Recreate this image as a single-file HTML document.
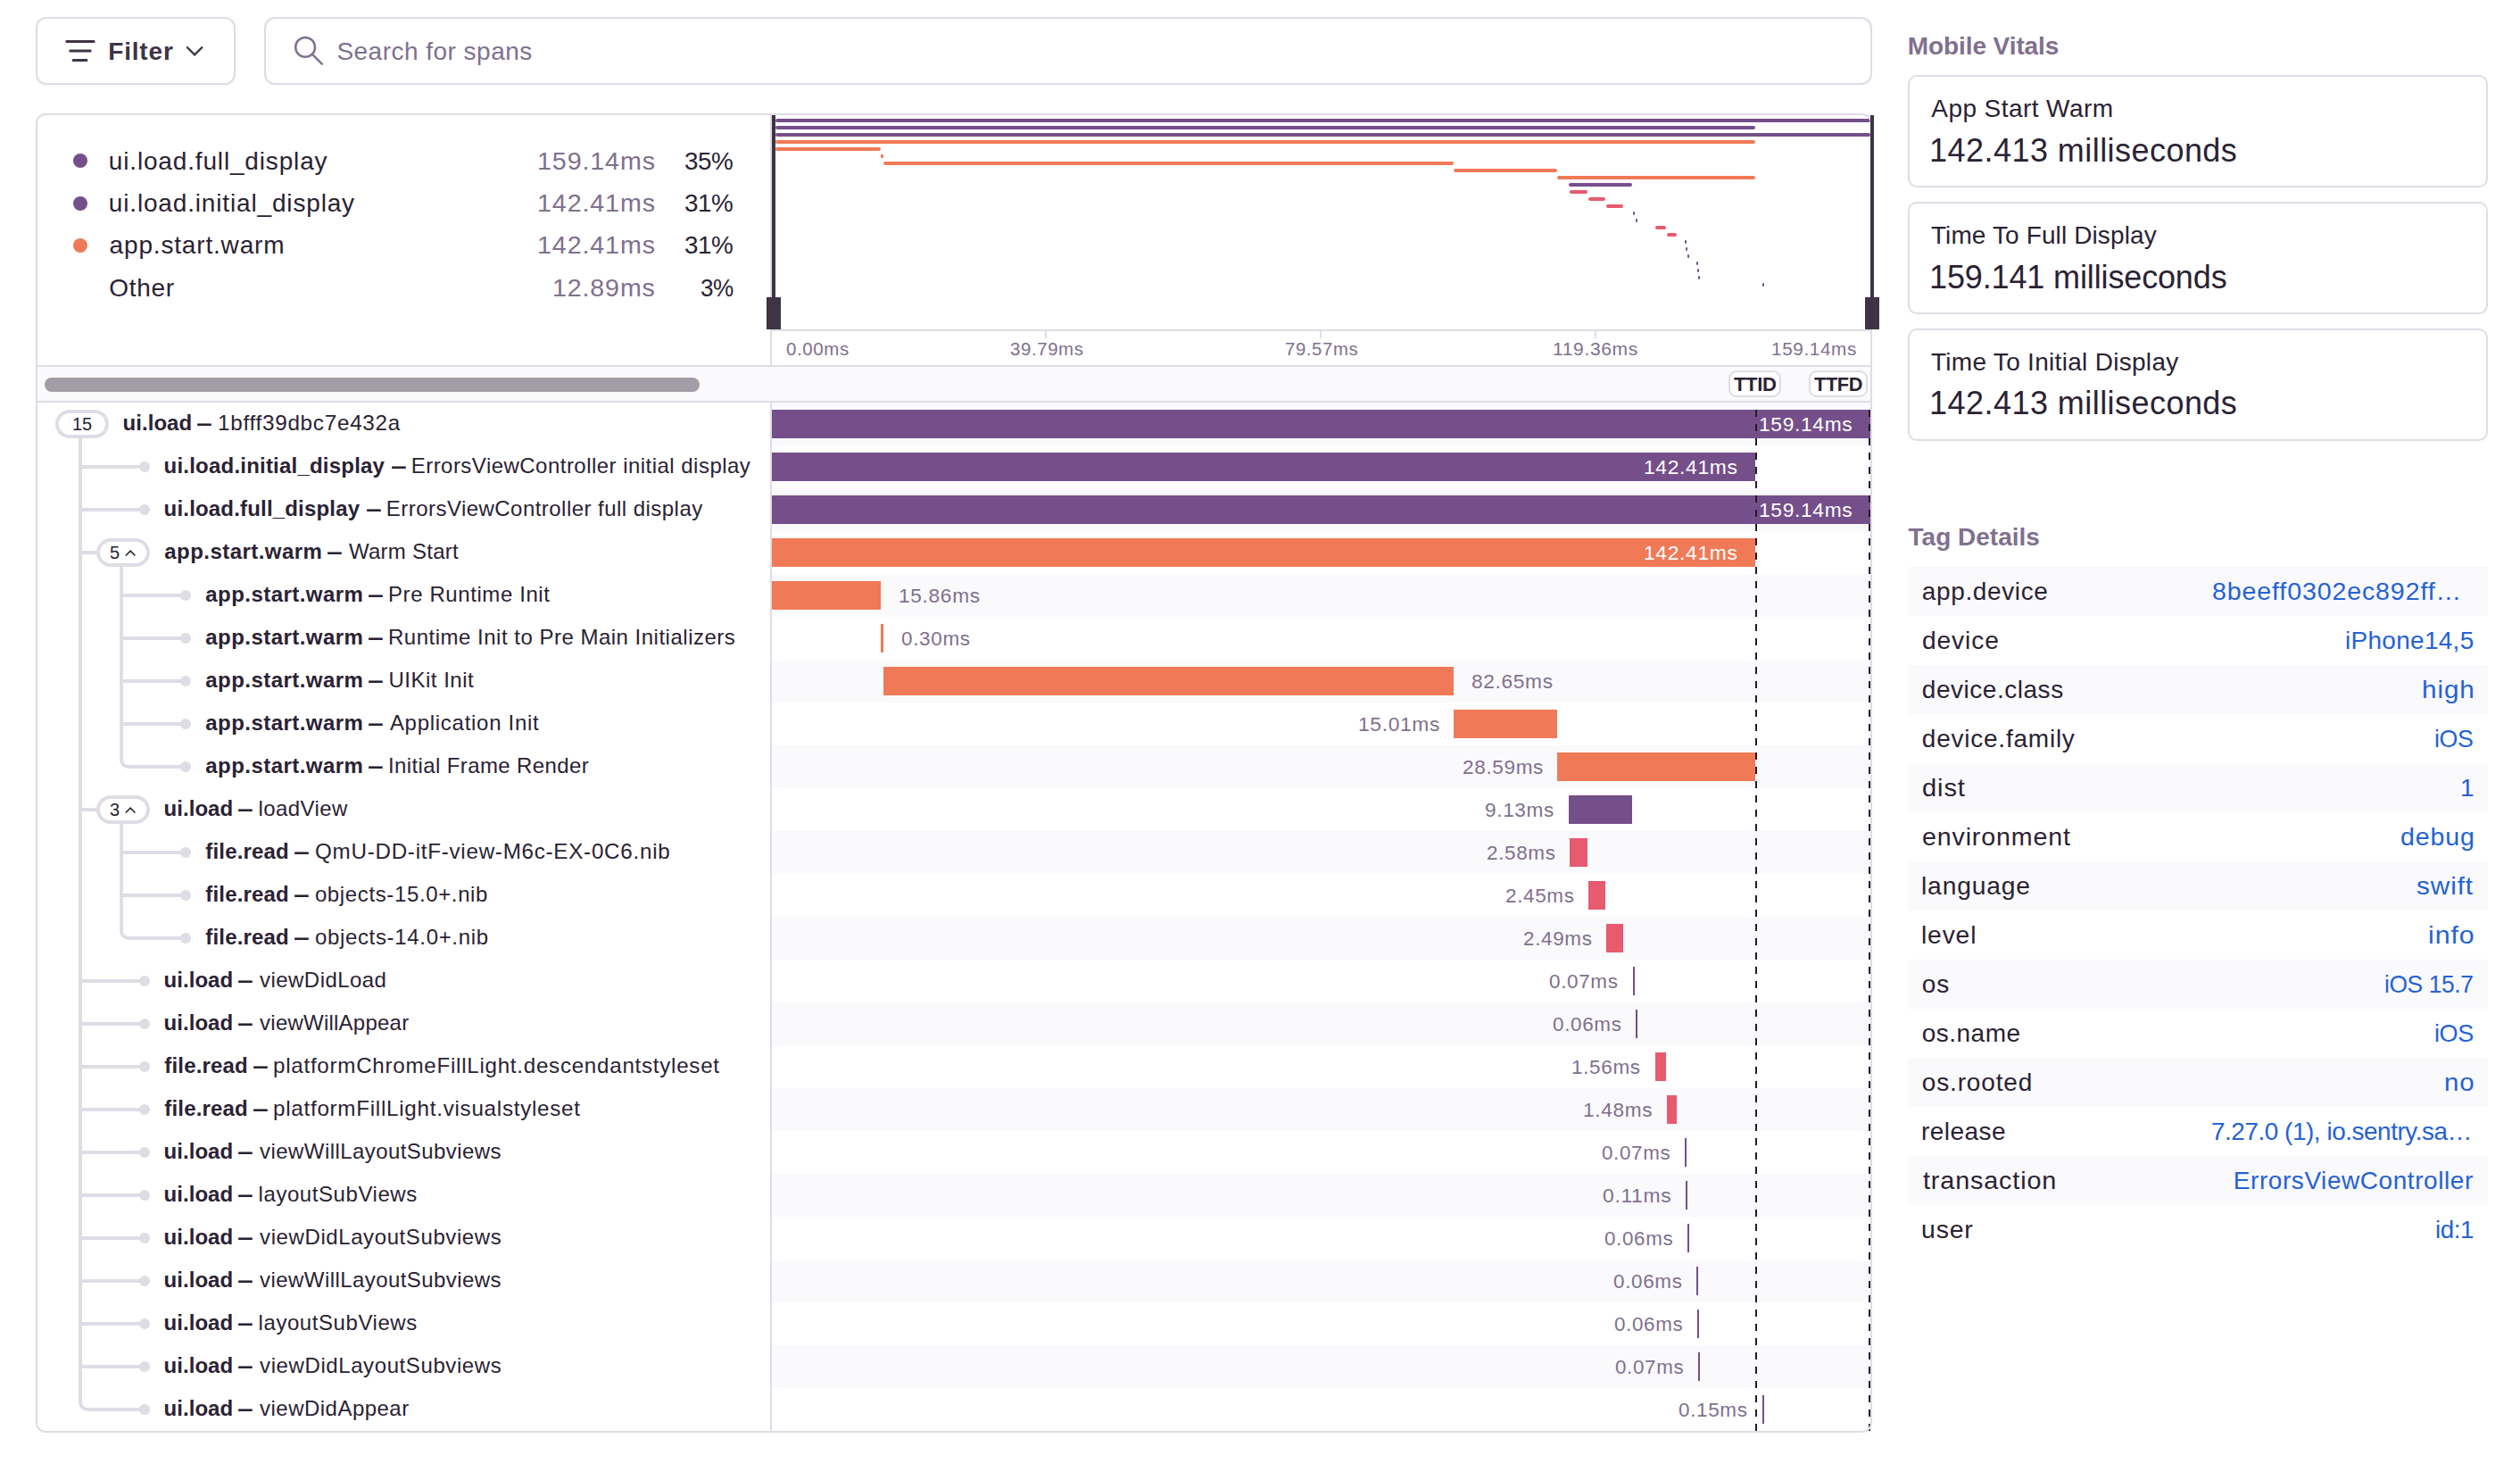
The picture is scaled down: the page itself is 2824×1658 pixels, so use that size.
<!DOCTYPE html>
<html lang="en">
<head>
<meta charset="utf-8">
<title>Trace view</title>
<style>
*{box-sizing:border-box;margin:0;padding:0}
html,body{width:2824px;height:1658px;overflow:hidden;background:#fff}
body{position:relative;font-family:"Liberation Sans",sans-serif;color:#2b2233;font-size:28px}
i{display:block;font-style:normal;position:absolute}
span,h4,svg{position:absolute;white-space:nowrap;transform-origin:0 50%}
.btn,.search{position:absolute;top:19px;height:76px;border:2px solid #e0dce5;border-radius:12px;background:#fff;box-shadow:0 2px 3px rgba(43,34,51,.035)}
.filter{left:40px;width:224px}
.ico-filter{left:73px;top:44px}
.filter-t{top:40px;font-weight:bold;font-size:28px;line-height:36px;color:#3e3446}
.ico-chev{left:208px;top:51px}
.search{left:296px;width:1802px;box-shadow:inset 0 2px 3px rgba(43,34,51,.03)}
.ico-search{left:329px;top:40px}
.search-t{top:40px;font-size:28px;line-height:36px;color:#80708f}
.panel-border{left:40px;top:127px;width:2058px;height:1478px;border:2px solid #e0dce5;border-radius:11px}
.lg{height:40px;line-height:40px;font-size:28px}
.lg-d{color:#80708f}
.dot{left:82px;width:16px;height:16px;border-radius:50%}
.mini i{height:4px}
.hline{z-index:5;top:129px;width:4px;height:206px;background:#3e3446}
.hbox{z-index:5;top:333px;width:16px;height:36px;background:#3e3446}
.axis-top{left:865px;top:369px;width:1231px;height:2px;background:#e0dce5}
.tick{top:371px;width:2px;height:8px;background:#e0dce5}
.ax{top:376px;height:30px;line-height:30px;font-size:20px;color:#80708f}
.hdr{left:42px;top:409px;width:2054px;height:42px;background:#faf9fb;border-top:2px solid #e0dce5;border-bottom:2px solid #e0dce5}
.scroll{left:50px;top:423px;width:734px;height:16px;border-radius:8px;background:#a39da8}
.badge{top:415.4px;height:29.6px;border:2px solid #e0dce5;border-radius:9px;background:#fff}
.bt{top:416px;height:29px;line-height:29px;font-size:22px;font-weight:bold}
.divider{left:863px;top:129px;width:2px;height:1474px;background:#e0dce5}
.stripe{left:865px;width:1231px;height:48px;background:#faf9fb}
.t{height:48px;line-height:45px;font-size:24px}
.tb{font-weight:bold}
.dsh{transform:scaleX(.655);transform-origin:0 50%;font-weight:bold}
.bar{height:32px}
.bl{height:48px;line-height:50px;font-size:22px;color:#80708f}
.bl.in{color:#fff}
.tree{left:42px;top:451px}
.tree path{fill:none;stroke:#e0dce5;stroke-width:4}
.tree circle{fill:#e0dce5}
.pill{width:60px;height:32px;border:4px solid #e0dce5;border-radius:16px;background:#fff}
.pt{height:32px;line-height:32px;font-size:20px}
.dash{top:451px;width:2px;height:1152px;background:repeating-linear-gradient(to bottom,transparent 0,transparent 8px,#231a2d 8px,#231a2d 16px)}
.sh{font-size:28px;line-height:40px;font-weight:bold;color:#80708f}
.card{left:2138.3px;width:649.7px;height:125.6px;border:2px solid #e0dce5;border-radius:10px;background:#fff}
.c1{font-size:28px;line-height:40px}
.c2{font-size:36px;line-height:48px}
.tagbg{left:2138px;width:650px;height:55px;background:#faf9fb}
.tg{height:55px;line-height:55px;font-size:28px}
.tv{color:#2562d4}
</style>
</head>
<body>
<header class="toolbar">
<div class="btn filter"></div>
<svg class="ico-filter" width="36" height="26" viewBox="0 0 36 26"><path d="M1.7 2.5h30.5M5.7 13h22.5M9.1 23.5h14.9" fill="none" stroke="#3e3446" stroke-width="3" stroke-linecap="round"/></svg>
<span id="filter-t" class="filter-t" style="left:121.2px;letter-spacing:0.84px;">Filter</span>
<svg class="ico-chev" width="22" height="13" viewBox="0 0 22 13"><path d="M1.2 1.5l8.9 8.9l8.9-8.9" fill="none" stroke="#3e3446" stroke-width="2.4" stroke-linejoin="miter"/></svg>
<div class="search"></div>
<svg class="ico-search" width="34" height="34" viewBox="0 0 34 34"><circle cx="13.1" cy="12.9" r="10.9" fill="none" stroke="#80708f" stroke-width="2.5"/><path d="M20.8 20.6l11 11" stroke="#80708f" stroke-width="2.5" stroke-linecap="round"/></svg>
<span id="search-t" class="search-t" style="left:377.4px;letter-spacing:0.48px;">Search for spans</span>
</header>
<main class="trace">
<section class="legend">
<i class="dot" style="top:172.3px;background:#754f89"></i><span id="lgn0" class="lg" style="left:121.8px;letter-spacing:0.84px;top:160.9px">ui.load.full_display</span><span id="lgd0" class="lg lg-d" style="left:602.0px;letter-spacing:0.84px;transform:scaleX(1.0244);top:160.9px">159.14ms</span><span id="lgp0" class="lg" style="left:767.1px;letter-spacing:-0.45px;transform:scaleX(0.9937);top:160.9px">35%</span>
<i class="dot" style="top:219.5px;background:#754f89"></i><span id="lgn1" class="lg" style="left:121.8px;letter-spacing:0.84px;top:208.1px">ui.load.initial_display</span><span id="lgd1" class="lg lg-d" style="left:602.0px;letter-spacing:0.84px;transform:scaleX(1.0244);top:208.1px">142.41ms</span><span id="lgp1" class="lg" style="left:767.1px;letter-spacing:-0.45px;transform:scaleX(0.9937);top:208.1px">31%</span>
<i class="dot" style="top:266.7px;background:#f07a57"></i><span id="lgn2" class="lg" style="left:122.6px;letter-spacing:0.83px;top:255.3px">app.start.warm</span><span id="lgd2" class="lg lg-d" style="left:602.0px;letter-spacing:0.84px;transform:scaleX(1.0244);top:255.3px">142.41ms</span><span id="lgp2" class="lg" style="left:767.1px;letter-spacing:-0.45px;transform:scaleX(0.9937);top:255.3px">31%</span>
<span id="lgn3" class="lg" style="left:122.2px;letter-spacing:0.70px;top:302.5px">Other</span><span id="lgd3" class="lg lg-d" style="left:619.1px;letter-spacing:0.84px;transform:scaleX(1.0218);top:302.5px">12.89ms</span><span id="lgp3" class="lg" style="left:784.6px;letter-spacing:-0.45px;transform:scaleX(0.9318);top:302.5px">3%</span>
</section>
<section class="minimap">
<div class="mini">
<i style="left:869px;top:133px;width:1227px;background:#754f89;border-radius:2px"></i><i style="left:869px;top:141px;width:1098px;background:#754f89;border-radius:2px"></i><i style="left:869px;top:149px;width:1227px;background:#754f89;border-radius:2px"></i><i style="left:869px;top:157px;width:1098px;background:#f07a57;border-radius:2px"></i><i style="left:869px;top:165px;width:118px;background:#f07a57;border-radius:2px"></i><i style="left:987px;top:173px;width:3px;background:#f07a57;border-radius:1px"></i><i style="left:990px;top:181px;width:639px;background:#f07a57;border-radius:2px"></i><i style="left:1629px;top:189px;width:116px;background:#f07a57;border-radius:2px"></i><i style="left:1745px;top:197px;width:222px;background:#f07a57;border-radius:2px"></i><i style="left:1758px;top:205px;width:71px;background:#754f89;border-radius:2px"></i><i style="left:1759px;top:213px;width:20px;background:#e85a6e;border-radius:2px"></i><i style="left:1780px;top:221px;width:19px;background:#e85a6e;border-radius:2px"></i><i style="left:1800px;top:229px;width:19px;background:#e85a6e;border-radius:2px"></i><i style="left:1830px;top:237px;width:2px;background:#754f89;border-radius:1px"></i><i style="left:1833px;top:245px;width:2px;background:#754f89;border-radius:1px"></i><i style="left:1855px;top:253px;width:12px;background:#e85a6e;border-radius:2px"></i><i style="left:1868px;top:261px;width:11px;background:#e85a6e;border-radius:2px"></i><i style="left:1888px;top:269px;width:2px;background:#754f89;border-radius:1px"></i><i style="left:1889px;top:277px;width:2px;background:#754f89;border-radius:1px"></i><i style="left:1891px;top:285px;width:2px;background:#754f89;border-radius:1px"></i><i style="left:1901px;top:293px;width:2px;background:#754f89;border-radius:1px"></i><i style="left:1902px;top:301px;width:2px;background:#754f89;border-radius:1px"></i><i style="left:1903px;top:309px;width:2px;background:#754f89;border-radius:1px"></i><i style="left:1975px;top:317px;width:2px;background:#754f89;border-radius:1px"></i>
</div>
<i class="divider"></i>
<i class="hline" style="left:865px"></i><i class="hbox" style="left:859px"></i>
<i class="hline" style="left:2096px"></i><i class="hbox" style="left:2090px"></i>
<i class="axis-top"></i>
<i class="tick" style="left:1171px"></i><i class="tick" style="left:1479px"></i><i class="tick" style="left:1787px"></i>
<span id="ax0" class="ax" style="left:880.5px;letter-spacing:0.60px;transform:scaleX(1.0232);">0.00ms</span><span id="ax1" class="ax" style="left:1131.6px;letter-spacing:0.60px;transform:scaleX(1.0195);">39.79ms</span><span id="ax2" class="ax" style="left:1439.7px;letter-spacing:0.60px;transform:scaleX(1.0159);">79.57ms</span><span id="ax3" class="ax" style="left:1740.4px;letter-spacing:0.60px;transform:scaleX(1.0522);">119.36ms</span><span id="ax4" class="ax" style="left:1984.8px;letter-spacing:0.60px;transform:scaleX(1.0349);">159.14ms</span>
</section>
<section class="spans">
<i class="hdr"></i><i class="scroll"></i>
<i class="badge" style="left:1937px;width:59px"></i><i class="badge" style="left:2027px;width:66px"></i>
<span id="ttid" class="bt" style="left:1943.0px;letter-spacing:-0.35px;">TTID</span><span id="ttfd" class="bt" style="left:2033.0px;letter-spacing:-0.35px;transform:scaleX(0.9856);">TTFD</span>
<div class="row"><i class="stripe" style="top:451px"></i><span id="op0" class="t tb" style="left:137.6px;letter-spacing:0.04px;top:451px">ui.load</span><span class="t dsh" style="left:221.3px;top:451px">—</span><span id="ds0" class="t" style="left:243.6px;letter-spacing:0.72px;transform:scaleX(1.0107);top:451px">1bfff39dbc7e432a</span><i class="bar" style="left:865px;top:459px;width:1231px;background:#754f89"></i><span id="bl0" class="bl in" style="left:1971.3px;letter-spacing:0.66px;transform:scaleX(1.0336);top:451px">159.14ms</span></div>
<div class="row"><span id="op1" class="t tb" style="left:183.6px;letter-spacing:0.21px;top:499px">ui.load.initial_display</span><span class="t dsh" style="left:438.8px;top:499px">—</span><span id="ds1" class="t" style="left:460.7px;letter-spacing:0.47px;top:499px">ErrorsViewController initial display</span><i class="bar" style="left:865px;top:507px;width:1102px;background:#754f89"></i><span id="bl1" class="bl in" style="left:1841.6px;letter-spacing:0.66px;transform:scaleX(1.0366);top:499px">142.41ms</span></div>
<div class="row"><i class="stripe" style="top:547px"></i><span id="op2" class="t tb" style="left:183.6px;letter-spacing:0.18px;top:547px">ui.load.full_display</span><span class="t dsh" style="left:410.9px;top:547px">—</span><span id="ds2" class="t" style="left:432.8px;letter-spacing:0.46px;top:547px">ErrorsViewController full display</span><i class="bar" style="left:865px;top:555px;width:1231px;background:#754f89"></i><span id="bl2" class="bl in" style="left:1971.3px;letter-spacing:0.66px;transform:scaleX(1.0336);top:547px">159.14ms</span></div>
<div class="row"><span id="op3" class="t tb" style="left:184.3px;letter-spacing:0.45px;top:595px">app.start.warm</span><span class="t dsh" style="left:367.1px;top:595px">—</span><span id="ds3" class="t" style="left:390.9px;letter-spacing:0.26px;top:595px">Warm Start</span><i class="bar" style="left:865px;top:603px;width:1102px;background:#f07a57"></i><span id="bl3" class="bl in" style="left:1841.6px;letter-spacing:0.66px;transform:scaleX(1.0366);top:595px">142.41ms</span></div>
<div class="row"><i class="stripe" style="top:643px"></i><span id="op4" class="t tb" style="left:230.3px;letter-spacing:0.45px;top:643px">app.start.warm</span><span class="t dsh" style="left:413.1px;top:643px">—</span><span id="ds4" class="t" style="left:435.0px;letter-spacing:0.59px;top:643px">Pre Runtime Init</span><i class="bar" style="left:865px;top:651px;width:122px;background:#f07a57"></i><span id="bl4" class="bl" style="left:1007.0px;letter-spacing:0.66px;transform:scaleX(1.0304);top:643px">15.86ms</span></div>
<div class="row"><span id="op5" class="t tb" style="left:230.3px;letter-spacing:0.45px;top:691px">app.start.warm</span><span class="t dsh" style="left:413.1px;top:691px">—</span><span id="ds5" class="t" style="left:435.0px;letter-spacing:0.50px;top:691px">Runtime Init to Pre Main Initializers</span><i class="bar" style="left:987px;top:699px;width:3px;background:#f07a57"></i><span id="bl5" class="bl" style="left:1009.5px;letter-spacing:0.66px;transform:scaleX(1.0207);top:691px">0.30ms</span></div>
<div class="row"><i class="stripe" style="top:739px"></i><span id="op6" class="t tb" style="left:230.3px;letter-spacing:0.45px;top:739px">app.start.warm</span><span class="t dsh" style="left:413.1px;top:739px">—</span><span id="ds6" class="t" style="left:435.4px;letter-spacing:0.51px;top:739px">UIKit Init</span><i class="bar" style="left:990px;top:747px;width:639px;background:#f07a57"></i><span id="bl6" class="bl" style="left:1648.6px;letter-spacing:0.66px;transform:scaleX(1.0303);top:739px">82.65ms</span></div>
<div class="row"><span id="op7" class="t tb" style="left:230.3px;letter-spacing:0.45px;top:787px">app.start.warm</span><span class="t dsh" style="left:413.1px;top:787px">—</span><span id="ds7" class="t" style="left:436.9px;letter-spacing:0.72px;top:787px">Application Init</span><i class="bar" style="left:1629px;top:795px;width:116px;background:#f07a57"></i><span id="bl7" class="bl" style="left:1521.7px;letter-spacing:0.66px;transform:scaleX(1.0339);top:787px">15.01ms</span></div>
<div class="row"><i class="stripe" style="top:835px"></i><span id="op8" class="t tb" style="left:230.3px;letter-spacing:0.45px;top:835px">app.start.warm</span><span class="t dsh" style="left:413.1px;top:835px">—</span><span id="ds8" class="t" style="left:435.0px;letter-spacing:0.38px;top:835px">Initial Frame Render</span><i class="bar" style="left:1745px;top:843px;width:222px;background:#f07a57"></i><span id="bl8" class="bl" style="left:1638.5px;letter-spacing:0.66px;transform:scaleX(1.0228);top:835px">28.59ms</span></div>
<div class="row"><span id="op9" class="t tb" style="left:183.6px;letter-spacing:0.04px;top:883px">ui.load</span><span class="t dsh" style="left:267.3px;top:883px">—</span><span id="ds9" class="t" style="left:289.6px;letter-spacing:0.39px;top:883px">loadView</span><i class="bar" style="left:1758px;top:891px;width:71px;background:#754f89"></i><span id="bl9" class="bl" style="left:1664.2px;letter-spacing:0.66px;transform:scaleX(1.0241);top:883px">9.13ms</span></div>
<div class="row"><i class="stripe" style="top:931px"></i><span id="op10" class="t tb" style="left:230.3px;letter-spacing:0.17px;top:931px">file.read</span><span class="t dsh" style="left:329.9px;top:931px">—</span><span id="ds10" class="t" style="left:352.6px;letter-spacing:0.72px;transform:scaleX(1.0088);top:931px">QmU-DD-itF-view-M6c-EX-0C6.nib</span><i class="bar" style="left:1759px;top:939px;width:20px;background:#e85a6e"></i><span id="bl10" class="bl" style="left:1665.5px;letter-spacing:0.66px;transform:scaleX(1.0200);top:931px">2.58ms</span></div>
<div class="row"><span id="op11" class="t tb" style="left:230.3px;letter-spacing:0.17px;top:979px">file.read</span><span class="t dsh" style="left:329.9px;top:979px">—</span><span id="ds11" class="t" style="left:352.9px;letter-spacing:0.63px;top:979px">objects-15.0+.nib</span><i class="bar" style="left:1780px;top:987px;width:19px;background:#e85a6e"></i><span id="bl11" class="bl" style="left:1686.8px;letter-spacing:0.66px;transform:scaleX(1.0200);top:979px">2.45ms</span></div>
<div class="row"><i class="stripe" style="top:1027px"></i><span id="op12" class="t tb" style="left:230.3px;letter-spacing:0.17px;top:1027px">file.read</span><span class="t dsh" style="left:329.9px;top:1027px">—</span><span id="ds12" class="t" style="left:352.9px;letter-spacing:0.67px;top:1027px">objects-14.0+.nib</span><i class="bar" style="left:1800px;top:1035px;width:19px;background:#e85a6e"></i><span id="bl12" class="bl" style="left:1706.5px;letter-spacing:0.66px;transform:scaleX(1.0200);top:1027px">2.49ms</span></div>
<div class="row"><span id="op13" class="t tb" style="left:183.6px;letter-spacing:0.04px;top:1075px">ui.load</span><span class="t dsh" style="left:267.3px;top:1075px">—</span><span id="ds13" class="t" style="left:291.1px;letter-spacing:0.44px;top:1075px">viewDidLoad</span><i class="bar" style="left:1830px;top:1083px;width:2px;background:#754f89"></i><span id="bl13" class="bl" style="left:1736.4px;letter-spacing:0.66px;transform:scaleX(1.0193);top:1075px">0.07ms</span></div>
<div class="row"><i class="stripe" style="top:1123px"></i><span id="op14" class="t tb" style="left:183.6px;letter-spacing:0.04px;top:1123px">ui.load</span><span class="t dsh" style="left:267.3px;top:1123px">—</span><span id="ds14" class="t" style="left:291.1px;letter-spacing:0.23px;top:1123px">viewWillAppear</span><i class="bar" style="left:1833px;top:1131px;width:2px;background:#754f89"></i><span id="bl14" class="bl" style="left:1739.6px;letter-spacing:0.66px;transform:scaleX(1.0193);top:1123px">0.06ms</span></div>
<div class="row"><span id="op15" class="t tb" style="left:184.3px;letter-spacing:0.17px;top:1171px">file.read</span><span class="t dsh" style="left:283.9px;top:1171px">—</span><span id="ds15" class="t" style="left:306.2px;letter-spacing:0.72px;transform:scaleX(1.0073);top:1171px">platformChromeFillLight.descendantstyleset</span><i class="bar" style="left:1855px;top:1179px;width:12px;background:#e85a6e"></i><span id="bl15" class="bl" style="left:1760.8px;letter-spacing:0.66px;transform:scaleX(1.0207);top:1171px">1.56ms</span></div>
<div class="row"><i class="stripe" style="top:1219px"></i><span id="op16" class="t tb" style="left:184.3px;letter-spacing:0.17px;top:1219px">file.read</span><span class="t dsh" style="left:283.9px;top:1219px">—</span><span id="ds16" class="t" style="left:306.2px;letter-spacing:0.72px;transform:scaleX(1.0086);top:1219px">platformFillLight.visualstyleset</span><i class="bar" style="left:1868px;top:1227px;width:11px;background:#e85a6e"></i><span id="bl16" class="bl" style="left:1774.1px;letter-spacing:0.66px;transform:scaleX(1.0261);top:1219px">1.48ms</span></div>
<div class="row"><span id="op17" class="t tb" style="left:183.6px;letter-spacing:0.04px;top:1267px">ui.load</span><span class="t dsh" style="left:267.3px;top:1267px">—</span><span id="ds17" class="t" style="left:291.1px;letter-spacing:0.43px;top:1267px">viewWillLayoutSubviews</span><i class="bar" style="left:1888px;top:1275px;width:2px;background:#754f89"></i><span id="bl17" class="bl" style="left:1794.7px;letter-spacing:0.66px;transform:scaleX(1.0166);top:1267px">0.07ms</span></div>
<div class="row"><i class="stripe" style="top:1315px"></i><span id="op18" class="t tb" style="left:183.6px;letter-spacing:0.04px;top:1315px">ui.load</span><span class="t dsh" style="left:267.3px;top:1315px">—</span><span id="ds18" class="t" style="left:289.6px;letter-spacing:0.56px;top:1315px">layoutSubViews</span><i class="bar" style="left:1889px;top:1323px;width:2px;background:#754f89"></i><span id="bl18" class="bl" style="left:1796.0px;letter-spacing:0.66px;transform:scaleX(1.0381);top:1315px">0.11ms</span></div>
<div class="row"><span id="op19" class="t tb" style="left:183.6px;letter-spacing:0.04px;top:1363px">ui.load</span><span class="t dsh" style="left:267.3px;top:1363px">—</span><span id="ds19" class="t" style="left:291.1px;letter-spacing:0.59px;top:1363px">viewDidLayoutSubviews</span><i class="bar" style="left:1891px;top:1371px;width:2px;background:#754f89"></i><span id="bl19" class="bl" style="left:1797.5px;letter-spacing:0.66px;transform:scaleX(1.0166);top:1363px">0.06ms</span></div>
<div class="row"><i class="stripe" style="top:1411px"></i><span id="op20" class="t tb" style="left:183.6px;letter-spacing:0.04px;top:1411px">ui.load</span><span class="t dsh" style="left:267.3px;top:1411px">—</span><span id="ds20" class="t" style="left:291.1px;letter-spacing:0.43px;top:1411px">viewWillLayoutSubviews</span><i class="bar" style="left:1901px;top:1419px;width:2px;background:#754f89"></i><span id="bl20" class="bl" style="left:1807.5px;letter-spacing:0.66px;transform:scaleX(1.0193);top:1411px">0.06ms</span></div>
<div class="row"><span id="op21" class="t tb" style="left:183.6px;letter-spacing:0.04px;top:1459px">ui.load</span><span class="t dsh" style="left:267.3px;top:1459px">—</span><span id="ds21" class="t" style="left:289.6px;letter-spacing:0.56px;top:1459px">layoutSubViews</span><i class="bar" style="left:1902px;top:1467px;width:2px;background:#754f89"></i><span id="bl21" class="bl" style="left:1808.7px;letter-spacing:0.66px;transform:scaleX(1.0166);top:1459px">0.06ms</span></div>
<div class="row"><i class="stripe" style="top:1507px"></i><span id="op22" class="t tb" style="left:183.6px;letter-spacing:0.04px;top:1507px">ui.load</span><span class="t dsh" style="left:267.3px;top:1507px">—</span><span id="ds22" class="t" style="left:291.1px;letter-spacing:0.59px;top:1507px">viewDidLayoutSubviews</span><i class="bar" style="left:1903px;top:1515px;width:2px;background:#754f89"></i><span id="bl22" class="bl" style="left:1809.7px;letter-spacing:0.66px;transform:scaleX(1.0153);top:1507px">0.07ms</span></div>
<div class="row"><span id="op23" class="t tb" style="left:183.6px;letter-spacing:0.04px;top:1555px">ui.load</span><span class="t dsh" style="left:267.3px;top:1555px">—</span><span id="ds23" class="t" style="left:291.1px;letter-spacing:0.47px;top:1555px">viewDidAppear</span><i class="bar" style="left:1975px;top:1563px;width:2px;background:#754f89"></i><span id="bl23" class="bl" style="left:1881.2px;letter-spacing:0.66px;transform:scaleX(1.0193);top:1555px">0.15ms</span></div>
<svg class="tree" width="824" height="1160" viewBox="0 0 824 1160">
<path d="M48 40V1120a8 8 0 0 0 8 8H118" />
<path d="M48 72H118" /><path d="M48 120H118" /><path d="M48 168H70" /><path d="M48 456H70" /><path d="M48 648H118" /><path d="M48 696H118" /><path d="M48 744H118" /><path d="M48 792H118" /><path d="M48 840H118" /><path d="M48 888H118" /><path d="M48 936H118" /><path d="M48 984H118" /><path d="M48 1032H118" /><path d="M48 1080H118" /><path d="M94 184V400a8 8 0 0 0 8 8H164" /><path d="M94 216H164" /><path d="M94 264H164" /><path d="M94 312H164" /><path d="M94 360H164" /><path d="M94 472V592a8 8 0 0 0 8 8H164" /><path d="M94 504H164" /><path d="M94 552H164" />
<circle cx="120" cy="72" r="6" /><circle cx="120" cy="120" r="6" /><circle cx="166" cy="216" r="6" /><circle cx="166" cy="264" r="6" /><circle cx="166" cy="312" r="6" /><circle cx="166" cy="360" r="6" /><circle cx="166" cy="408" r="6" /><circle cx="166" cy="504" r="6" /><circle cx="166" cy="552" r="6" /><circle cx="166" cy="600" r="6" /><circle cx="120" cy="648" r="6" /><circle cx="120" cy="696" r="6" /><circle cx="120" cy="744" r="6" /><circle cx="120" cy="792" r="6" /><circle cx="120" cy="840" r="6" /><circle cx="120" cy="888" r="6" /><circle cx="120" cy="936" r="6" /><circle cx="120" cy="984" r="6" /><circle cx="120" cy="1032" r="6" /><circle cx="120" cy="1080" r="6" /><circle cx="120" cy="1128" r="6" />
</svg>
<i class="pill" style="left:62px;top:459px"></i><span class="pt" style="left:62px;top:459px;width:60px;text-align:center">15</span><i class="pill" style="left:108px;top:603px"></i><span class="pt" style="left:123px;top:603px">5</span><svg class="pc" style="left:139.8px;top:614.5px" width="13" height="9" viewBox="0 0 13 9"><path d="M0.9 7.5L6.15 2.2L11.4 7.5" fill="none" stroke="#2b2233" stroke-width="1.6" stroke-linejoin="miter"/></svg><i class="pill" style="left:108px;top:891px"></i><span class="pt" style="left:123px;top:891px">3</span><svg class="pc" style="left:139.8px;top:902.5px" width="13" height="9" viewBox="0 0 13 9"><path d="M0.9 7.5L6.15 2.2L11.4 7.5" fill="none" stroke="#2b2233" stroke-width="1.6" stroke-linejoin="miter"/></svg>
<i class="dash" style="left:1967px"></i><i class="dash" style="left:2094px"></i>
<i class="panel-border"></i>
</section>
</main>
<aside class="side">
<section class="vitals">
<h4 id="sh0" class="sh" style="left:2137.8px;letter-spacing:-0.09px;top:32px">Mobile Vitals</h4>
<i class="card" style="top:84.4px"></i><span id="c10" class="c1" style="left:2164.3px;letter-spacing:0.43px;top:102.1px">App Start Warm</span><span id="c20" class="c2" style="left:2162.1px;letter-spacing:0.45px;top:144.7px">142.413 milliseconds</span>
<i class="card" style="top:226.2px"></i><span id="c11" class="c1" style="left:2163.9px;letter-spacing:0.12px;top:243.9px">Time To Full Display</span><span id="c21" class="c2" style="left:2162.1px;letter-spacing:-0.14px;top:286.5px">159.141 milliseconds</span>
<i class="card" style="top:368.0px"></i><span id="c12" class="c1" style="left:2163.9px;letter-spacing:0.30px;top:385.7px">Time To Initial Display</span><span id="c22" class="c2" style="left:2162.1px;letter-spacing:0.45px;top:428.3px">142.413 milliseconds</span>
</section>
<section class="tags">
<h4 id="sh1" class="sh" style="left:2138.6px;top:582px">Tag Details</h4>
<i class="tagbg" style="top:635px"></i><span id="tk0" class="tg" style="left:2153.8px;letter-spacing:0.63px;top:635px">app.device</span><span id="tv0" class="tg tv" style="left:2479.3px;letter-spacing:0.84px;transform:scaleX(1.0213);top:635px">8beeff0302ec892ff…</span>
<span id="tk1" class="tg" style="left:2153.8px;letter-spacing:0.84px;transform:scaleX(1.0081);top:690px">device</span><span id="tv1" class="tg tv" style="left:2628.1px;letter-spacing:0.27px;top:690px">iPhone14,5</span>
<i class="tagbg" style="top:745px"></i><span id="tk2" class="tg" style="left:2153.8px;letter-spacing:0.53px;top:745px">device.class</span><span id="tv2" class="tg tv" style="left:2713.8px;letter-spacing:0.84px;transform:scaleX(1.0607);top:745px">high</span>
<span id="tk3" class="tg" style="left:2153.8px;letter-spacing:0.77px;top:800px">device.family</span><span id="tv3" class="tg tv" style="left:2728.3px;letter-spacing:-0.45px;transform:scaleX(0.9567);top:800px">iOS</span>
<i class="tagbg" style="top:855px"></i><span id="tk4" class="tg" style="left:2153.8px;letter-spacing:0.84px;transform:scaleX(1.0394);top:855px">dist</span><span id="tv4" class="tg tv" style="left:2756.9px;top:855px">1</span>
<span id="tk5" class="tg" style="left:2153.8px;letter-spacing:0.84px;transform:scaleX(1.0210);top:910px">environment</span><span id="tv5" class="tg tv" style="left:2689.6px;letter-spacing:0.84px;transform:scaleX(1.0219);top:910px">debug</span>
<i class="tagbg" style="top:965px"></i><span id="tk6" class="tg" style="left:2152.9px;letter-spacing:0.84px;transform:scaleX(1.0074);top:965px">language</span><span id="tv6" class="tg tv" style="left:2707.8px;letter-spacing:0.84px;transform:scaleX(1.0624);top:965px">swift</span>
<span id="tk7" class="tg" style="left:2152.9px;letter-spacing:0.84px;transform:scaleX(1.0078);top:1020px">level</span><span id="tv7" class="tg tv" style="left:2720.7px;letter-spacing:0.84px;transform:scaleX(1.0853);top:1020px">info</span>
<i class="tagbg" style="top:1075px"></i><span id="tk8" class="tg" style="left:2153.8px;letter-spacing:0.84px;top:1075px">os</span><span id="tv8" class="tg tv" style="left:2672.3px;letter-spacing:-0.45px;transform:scaleX(0.9443);top:1075px">iOS 15.7</span>
<span id="tk9" class="tg" style="left:2153.8px;letter-spacing:0.47px;top:1130px">os.name</span><span id="tv9" class="tg tv" style="left:2728.1px;letter-spacing:-0.45px;transform:scaleX(0.9661);top:1130px">iOS</span>
<i class="tagbg" style="top:1185px"></i><span id="tk10" class="tg" style="left:2153.8px;letter-spacing:0.84px;top:1185px">os.rooted</span><span id="tv10" class="tg tv" style="left:2738.7px;letter-spacing:0.84px;transform:scaleX(1.0550);top:1185px">no</span>
<span id="tk11" class="tg" style="left:2152.9px;letter-spacing:0.49px;top:1240px">release</span><span id="tv11" class="tg tv" style="left:2478.4px;letter-spacing:-0.45px;transform:scaleX(0.9957);top:1240px">7.27.0 (1), io.sentry.sa…</span>
<i class="tagbg" style="top:1295px"></i><span id="tk12" class="tg" style="left:2154.7px;letter-spacing:0.84px;transform:scaleX(1.0272);top:1295px">transaction</span><span id="tv12" class="tg tv" style="left:2502.8px;letter-spacing:0.56px;top:1295px">ErrorsViewController</span>
<span id="tk13" class="tg" style="left:2152.9px;letter-spacing:0.84px;transform:scaleX(1.0145);top:1350px">user</span><span id="tv13" class="tg tv" style="left:2728.9px;letter-spacing:-0.45px;transform:scaleX(0.9923);top:1350px">id:1</span>
</section>
</aside>
</body>
</html>
